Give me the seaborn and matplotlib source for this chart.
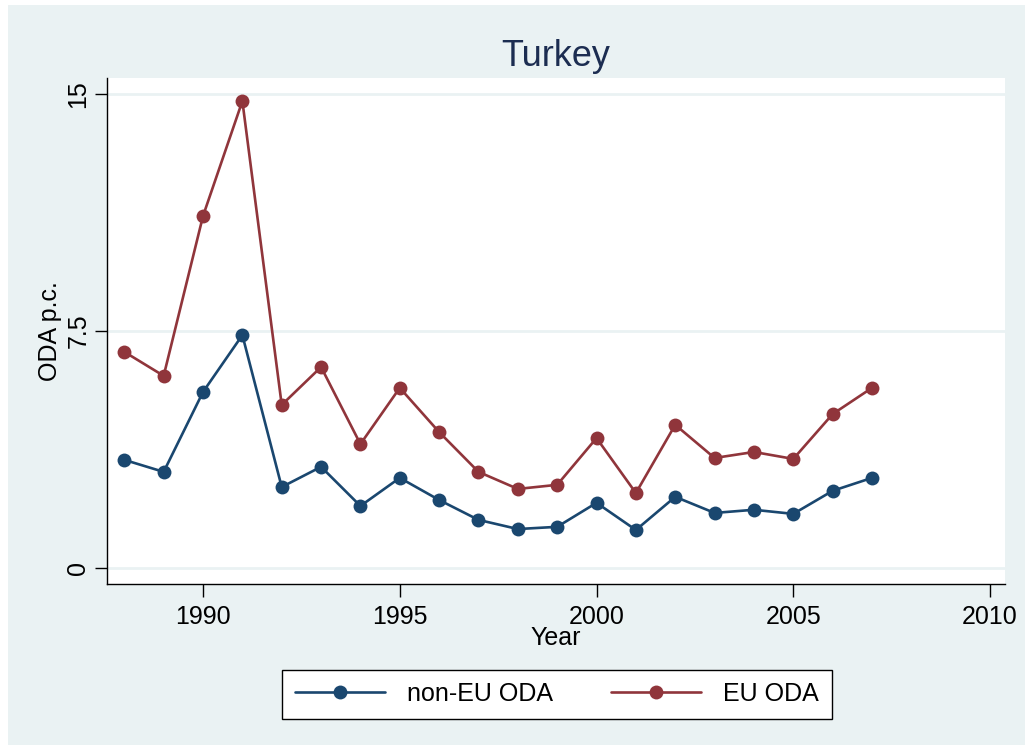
import pandas as pd
import matplotlib
matplotlib.use("Agg")
import matplotlib.pyplot as plt
import seaborn as sns

# values
years = list(range(1988, 2008))
non_eu_oda = [3.42, 3.04, 5.57, 7.37, 2.56, 3.20, 1.96, 2.85, 2.15, 1.52,
              1.23, 1.30, 2.06, 1.20, 2.25, 1.74, 1.84, 1.71, 2.44, 2.85]
eu_oda = [6.84, 6.08, 11.14, 14.78, 5.16, 6.36, 3.92, 5.70, 4.30, 3.04,
          2.50, 2.63, 4.11, 2.37, 4.53, 3.48, 3.67, 3.45, 4.87, 5.70]
x_ticks = [1990, 1995, 2000, 2005, 2010]
y_ticks = [0, 7.5, 15]
y_tick_labels = ["0", "7.5", "15"]

df = pd.DataFrame({
    "Year": years * 2,
    "ODA": non_eu_oda + eu_oda,
    "series": ["non-EU ODA"] * len(years) + ["EU ODA"] * len(years),
})

sns.set_style("white")
plt.rcParams['font.family'] = ['Liberation Sans', 'DejaVu Sans']
plt.rcParams['text.color'] = 'black'
plt.rcParams['axes.labelcolor'] = 'black'
plt.rcParams['xtick.color'] = 'black'
plt.rcParams['ytick.color'] = 'black'

bg = "#EAF2F3"
navy = "#1a476f"
maroon = "#90353b"

fig = plt.figure(figsize=(10.32, 7.51), dpi=100)
fig.patch.set_facecolor("white")
# outer light panel like the Stata graph region
fig.add_artist(plt.Rectangle((8 / 1032, 6 / 751), 1017 / 1032, 740 / 751,
                             transform=fig.transFigure, facecolor=bg,
                             edgecolor="none", zorder=-10))

ax = fig.add_axes([107 / 1032, 167 / 751, 898 / 1032, 506 / 751])
ax.set_facecolor("white")

sns.lineplot(data=df, x="Year", y="ODA", hue="series",
             palette={"non-EU ODA": navy, "EU ODA": maroon},
             hue_order=["non-EU ODA", "EU ODA"],
             marker="o", markersize=10, markeredgewidth=0,
             linewidth=1.9, ax=ax, legend=False, zorder=3)

ax.set_xlim(1987.56, 2010.38)
ax.set_ylim(-0.51, 15.51)
ax.set_xticks(x_ticks)
ax.set_yticks(y_ticks)
ax.set_yticklabels(y_tick_labels, rotation=90, va="center")
for y in y_ticks:
    ax.axhline(y, color=bg, lw=2, zorder=1)

for s in ["top", "right"]:
    ax.spines[s].set_visible(False)
for s in ["left", "bottom"]:
    ax.spines[s].set_color("black")
    ax.spines[s].set_linewidth(1.0)
ax.tick_params(axis="both", which="major", direction="out", length=9,
               width=1.0, color="black", labelcolor="black", labelsize=18,
               left=True, bottom=True)
ax.tick_params(axis="x", pad=6)
ax.tick_params(axis="y", pad=3)

ax.set_xlabel("Year", fontsize=18, labelpad=-2, color="black")
ax.set_ylabel("ODA p.c.", fontsize=18, labelpad=3, color="black")
ax.set_title("Turkey", fontsize=26, color="#1c2d51", pad=9)

handles = [
    plt.Line2D([], [], color=navy, marker="o", markersize=10, lw=1.9,
               markeredgewidth=0),
    plt.Line2D([], [], color=maroon, marker="o", markersize=10, lw=1.9,
               markeredgewidth=0),
]
leg = fig.legend(handles, ["non-EU ODA", "EU ODA"], loc="center",
                 bbox_to_anchor=(557 / 1032, 1 - 694 / 751), ncol=2,
                 fontsize=18, frameon=True, fancybox=False, handlelength=3.6,
                 columnspacing=2.3, borderpad=0.5, handletextpad=0.9,
                 framealpha=1.0)
leg.get_frame().set_edgecolor("black")
leg.get_frame().set_linewidth(1.0)
leg.get_frame().set_facecolor("white")
for t in leg.get_texts():
    t.set_color("black")

fig.savefig("out.png", dpi=100, facecolor=fig.get_facecolor())
